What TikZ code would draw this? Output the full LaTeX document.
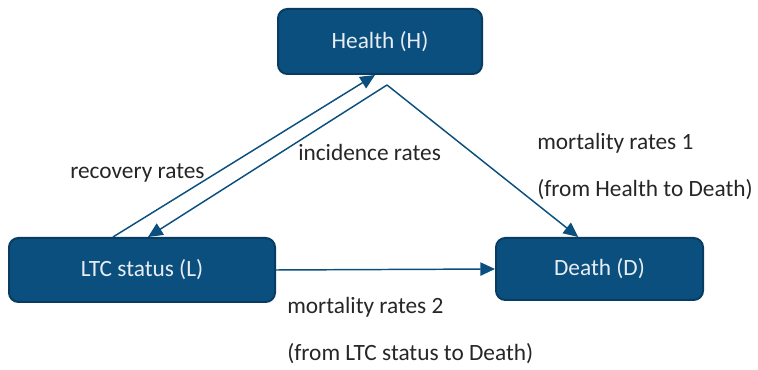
\documentclass[tikz,border=0pt]{standalone}
\usepackage{fontspec}
\setmainfont{Carlito}
\usetikzlibrary{arrows.meta}
\definecolor{boxblue}{HTML}{0B4F7F}
\definecolor{boxedge}{HTML}{083C62}
\definecolor{txtgray}{HTML}{262626}
\tikzset{
  state/.style 2 args={draw=boxedge, line width=1.5pt, fill=boxblue, rounded corners=7pt,
    text=white!90!boxblue, minimum width=#1, minimum height=#2},
  flow/.style={draw=boxblue, line width=1.1pt, -{Triangle[length=11pt,width=10pt]}},
  rate/.style={anchor=west, inner sep=0pt, text=txtgray}
}
\begin{document}
\begin{tikzpicture}[x=0.75pt,y=-0.75pt,font=\fontsize{17.5}{21}\selectfont]
\useasboundingbox (0,0) rectangle (758,370);

% states
\node[state={153pt}{48.75pt}] (H) at (380,41.5) {Health (H)};
\node[state={199.5pt}{48pt}] (L) at (142,270) {LTC status (L)};
\node[state={155.25pt}{46.5pt}] (D) at (599.5,269) {Death (D)};
\coordinate (Hout) at (387,85);

% transitions
\draw[flow] ([xshift=-21.75pt]L.north) -- ([xshift=-3.75pt]H.south);
\draw[flow] (Hout) -- ([xshift=4.5pt]L.north);
\draw[flow] (Hout) -- ([xshift=-16pt]D.north);
\draw[flow] (L.east) -- (D.west);

% labels
\node[rate] (rec) at (70,173) {recovery rates};
\node[rate] (inc) at (298,152) {incidence rates};
\node[rate] (m1) at (537,143) {mortality rates 1};
\node[rate] (m1b) at (537,190) {(from Health to Death)};
\node[rate] (m2) at (287,307) {mortality rates 2};
\node[rate] (m2b) at (287,354) {(from LTC status to Death)};
\end{tikzpicture}
\end{document}
